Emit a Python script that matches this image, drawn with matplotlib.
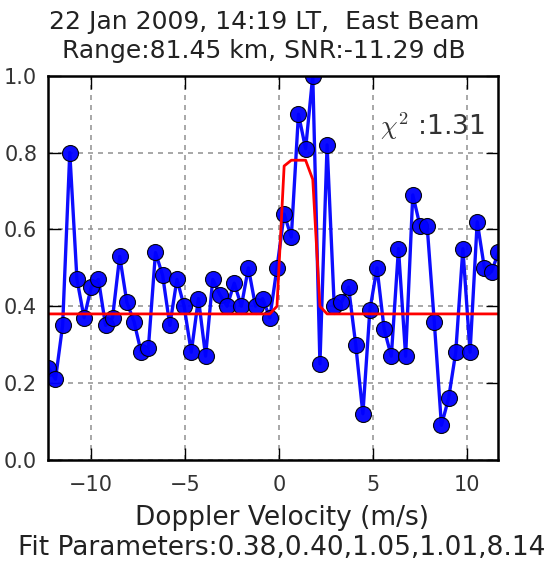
"""Doppler spectrum, east beam, with the fitted baseline + flat-topped peak overlaid."""

import matplotlib

matplotlib.use("Agg")
import matplotlib.pyplot as plt

# velocity bins (m/s), one per marker
VELOCITY = [
    -12.25, -11.87, -11.49, -11.11, -10.73, -10.35, -9.97, -9.59,
    -9.21, -8.84, -8.46, -8.08, -7.70, -7.32, -6.94, -6.56,
    -6.18, -5.80, -5.42, -5.04, -4.66, -4.28, -3.90, -3.52,
    -3.14, -2.76, -2.38, -2.00, -1.63, -1.25, -0.87, -0.49,
    -0.11, 0.27, 0.65, 1.03, 1.41, 1.79, 2.17, 2.55,
    2.93, 3.31, 3.69, 4.07, 4.45, 4.82, 5.20, 5.58,
    5.96, 6.34, 6.72, 7.10, 7.48, 7.86, 8.24, 8.62,
    9.00, 9.38, 9.76, 10.14, 10.52, 10.90, 11.28, 11.65,
]
# normalised spectral power per bin
POWER = [
    0.24, 0.21, 0.35, 0.80, 0.47, 0.37, 0.45, 0.47,
    0.35, 0.37, 0.53, 0.41, 0.36, 0.28, 0.29, 0.54,
    0.48, 0.35, 0.47, 0.40, 0.28, 0.42, 0.27, 0.47,
    0.43, 0.40, 0.46, 0.40, 0.50, 0.40, 0.42, 0.37,
    0.50, 0.64, 0.58, 0.90, 0.81, 1.00, 0.25, 0.82,
    0.40, 0.41, 0.45, 0.30, 0.12, 0.39, 0.50, 0.34,
    0.27, 0.55, 0.27, 0.69, 0.61, 0.61, 0.36, 0.09,
    0.16, 0.28, 0.55, 0.28, 0.62, 0.50, 0.49, 0.54,
]
# fitted curve as drawn, sampled on the same bins
FIT = [0.38] * 32 + [0.40, 0.765, 0.78, 0.78, 0.78, 0.73, 0.40] + [0.38] * 25

TITLE = "22 Jan 2009, 14:19 LT,  East Beam\nRange:81.45 km, SNR:-11.29 dB"
XLABEL = "Doppler Velocity (m/s)\nFit Parameters:0.38,0.40,1.05,1.01,8.14"
CHI2 = r"$\chi^2$ :1.31"
XTICKS = [-10, -5, 0, 5, 10]
YTICKS = [0.0, 0.2, 0.4, 0.6, 0.8, 1.0]


def main() -> None:
    plt.rcParams["font.family"] = "DejaVu Sans"
    plt.rcParams["mathtext.fontset"] = "cm"

    fig = plt.figure(figsize=(5.49, 5.65), dpi=100)
    ax = fig.add_axes([0.088, 0.186, 0.82, 0.680])

    ax.plot(VELOCITY, POWER, "-o", color="blue", lw=2.4, ms=11.5,
            mfc="blue", mec="black", mew=0.8, alpha=0.95)
    ax.plot(VELOCITY, FIT, "-", color="red", lw=2.0)

    ax.set_xlim(VELOCITY[0], VELOCITY[-1])
    ax.set_ylim(0.0, 1.0)
    ax.set_xticks(XTICKS)
    ax.set_yticks(YTICKS)
    ax.set_xticklabels([f"{t}".replace("-", "\u2212") for t in XTICKS])
    ax.set_yticklabels([f"{t:.1f}" for t in YTICKS])
    ax.tick_params(direction="in", length=9, width=1, top=True, right=True,
                   labelsize=15, pad=8, labelcolor="#333333")
    ax.tick_params(axis="x", pad=11)
    ax.grid(True, color="0.6", ls=(0, (3, 3)), lw=1.2)
    for s in ax.spines.values():
        s.set_linewidth(1.8)

    ax.set_title(TITLE, fontsize=18, color="#222222", pad=13, linespacing=1.25, x=0.479)
    ax.set_xlabel(XLABEL, fontsize=19, color="#222222", labelpad=7, linespacing=1.22)
    ax.xaxis.label.set_x(0.518)
    ax.text(0.97, 0.87, CHI2, transform=ax.transAxes, ha="right", va="center",
            fontsize=19, color="#333333")

    fig.savefig("out.png", dpi=100)


if __name__ == "__main__":
    main()
